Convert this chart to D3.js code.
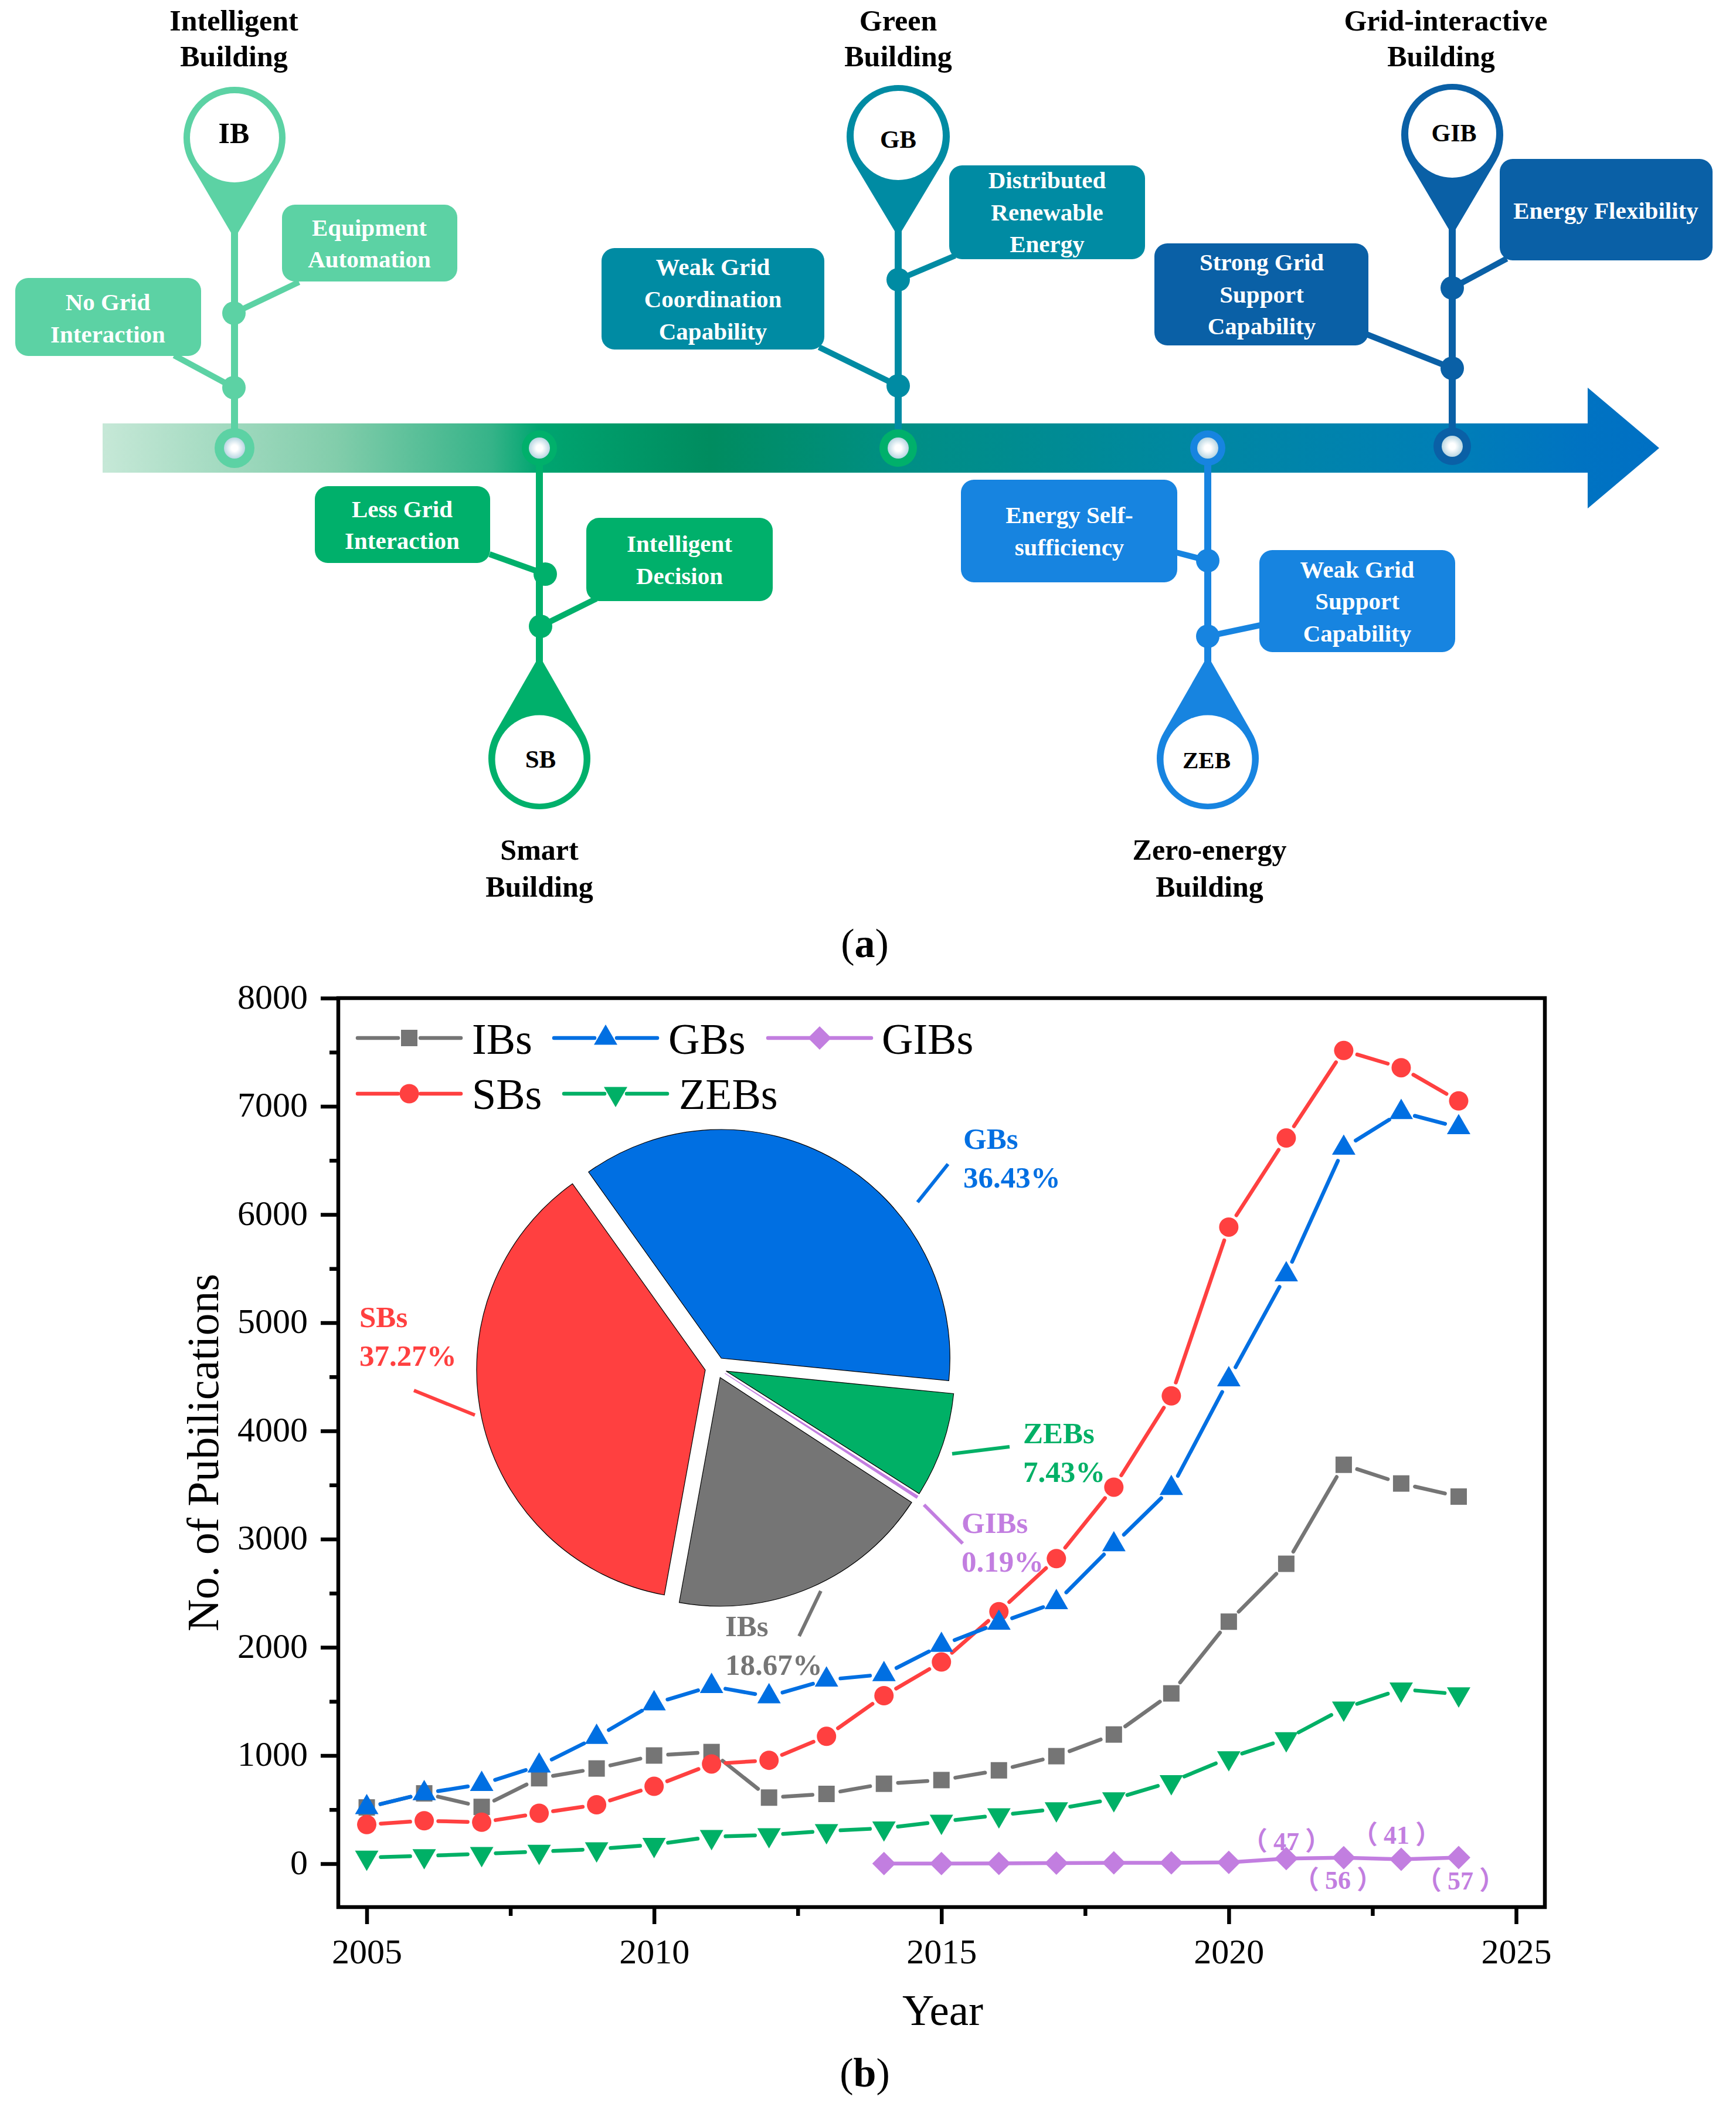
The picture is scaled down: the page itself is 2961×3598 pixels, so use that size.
<!DOCTYPE html>
<html>
<head>
<meta charset="utf-8">
<script src="https://cdn.jsdelivr.net/npm/d3@7"></script>
<style>
  body { margin: 0; background: #fff; }
  text { font-family: "Liberation Serif", "Noto Sans CJK SC", serif; }
</style>
</head>
<body>
<div id="chart"></div>
<script>
// publications per year
const years = [2005, 2006, 2007, 2008, 2009, 2010, 2011, 2012, 2013, 2014, 2015, 2016, 2017, 2018, 2019, 2020, 2021, 2022, 2023, 2024];
const ibValues = [520, 650, 525, 790, 880, 1000, 1032, 611, 645, 739, 773, 863, 994, 1194, 1574, 2237, 2772, 3687, 3514, 3393];
const sbValues = [362, 397, 383, 466, 545, 715, 922, 956, 1177, 1553, 1864, 2330, 2820, 3480, 4324, 5884, 6707, 7516, 7357, 7050];
const gbValues = [520, 650, 735, 905, 1170, 1480, 1640, 1545, 1700, 1750, 2020, 2225, 2415, 2950, 3470, 4475, 5445, 6615, 6945, 6805];
const zebValues = [58, 72, 92, 112, 135, 176, 249, 266, 303, 328, 390, 449, 505, 598, 756, 977, 1153, 1436, 1612, 1567];
const gibYears = [2014, 2015, 2016, 2017, 2018, 2019, 2020, 2021, 2022, 2023, 2024];
const gibValues = [2, 2, 3, 6, 8, 8, 12, 47, 56, 41, 57];

// pie shares, clockwise from the GBs slice
const pieNames = ["GBs", "ZEBs", "GIBs", "IBs", "SBs"];
const pieShares = [36.43, 7.43, 0.19, 18.67, 37.27];

const yTicks = [0, 1000, 2000, 3000, 4000, 5000, 6000, 7000, 8000];
const yMinorTicks = [500, 1500, 2500, 3500, 4500, 5500, 6500, 7500];
const xTicks = [2005, 2010, 2015, 2020, 2025];
const xMinorTicks = [2007.5, 2012.5, 2017.5, 2022.5];

const COLORS = {
  IBs: "#757575", SBs: "#ff4040", GBs: "#006fe2", ZEBs: "#00b066", GIBs: "#c27ee0",
};

const PLOT = { left: 577, right: 2635, top: 1702, bottom: 3252 };
const GAP = 24;

// timeline stages (a)
const stages = [
  { key: "IB", title: ["Intelligent", "Building"], color: "#5cd2a4", ring: "#5cd2a4",
    x: 400, dir: 1, cy: 235, r: 87, inner: 76, innerCy: 235, tipY: 407, node: 34, nodeY: 764,
    titleX: 399, titleY: [52, 113], labelX: 399, labelY: 244, labelSize: 50 },
  { key: "SB", title: ["Smart", "Building"], color: "#00b06b", ring: "#00b06b",
    x: 920, dir: -1, cy: 1293, r: 87, inner: 75.5, innerCy: 1295, tipY: 1118, node: 30, nodeY: 764,
    titleX: 920, titleY: [1466, 1529], labelX: 922, labelY: 1309, labelSize: 43 },
  { key: "GB", title: ["Green", "Building"], color: "#008ba3", ring: "#00b06b",
    x: 1532, dir: 1, cy: 233, r: 88, inner: 76, innerCy: 231, tipY: 404, node: 32, nodeY: 764,
    titleX: 1532, titleY: [52, 113], labelX: 1532, labelY: 252, labelSize: 43 },
  { key: "ZEB", title: ["Zero-energy", "Building"], color: "#1784e0", ring: "#1784e0",
    x: 2060, dir: -1, cy: 1293, r: 87, inner: 75.5, innerCy: 1295, tipY: 1118, node: 30, nodeY: 764,
    titleX: 2063, titleY: [1466, 1529], labelX: 2058, labelY: 1310, labelSize: 41 },
  { key: "GIB", title: ["Grid-interactive", "Building"], color: "#0a60a6", ring: "#0a60a6",
    x: 2477, dir: 1, cy: 230, r: 87, inner: 75, innerCy: 228, tipY: 401, node: 32, nodeY: 761,
    titleX: 2466, titleY: [52, 113], labelX: 2480, labelY: 241, labelSize: 42 },
];

// feature boxes hanging off the stems
const boxes = [
  { stage: "IB", lines: ["Equipment", "Automation"], x: 481, y: 349, w: 299, h: 131, tx: 630, ty: [402, 456], nx: 399, ny: 534, cx: 510, cy: 481 },
  { stage: "IB", lines: ["No Grid", "Interaction"], x: 26, y: 474, w: 317, h: 133, tx: 184, ty: [529, 584], nx: 399, ny: 661, cx: 297, cy: 606 },
  { stage: "SB", lines: ["Less Grid", "Interaction"], x: 537, y: 829, w: 299, h: 131, tx: 686, ty: [882, 936], nx: 930, ny: 979, cx: 835, cy: 945 },
  { stage: "SB", lines: ["Intelligent", "Decision"], x: 1000, y: 883, w: 318, h: 142, tx: 1159, ty: [941, 996], nx: 922, ny: 1068, cx: 1017, cy: 1021 },
  { stage: "GB", lines: ["Distributed", "Renewable", "Energy"], x: 1619, y: 282, w: 334, h: 160, tx: 1786, ty: [321, 376, 430], nx: 1532, ny: 477, cx: 1629, cy: 436 },
  { stage: "GB", lines: ["Weak Grid", "Coordination", "Capability"], x: 1026, y: 423, w: 380, h: 173, tx: 1216, ty: [469, 524, 579], nx: 1532, ny: 658, cx: 1397, cy: 592 },
  { stage: "ZEB", lines: ["Energy Self-", "sufficiency"], x: 1639, y: 818, w: 369, h: 175, tx: 1824, ty: [892, 947], nx: 2060, ny: 956, cx: 2006, cy: 942 },
  { stage: "ZEB", lines: ["Weak Grid", "Support", "Capability"], x: 2148, y: 938, w: 334, h: 174, tx: 2315, ty: [985, 1039, 1094], nx: 2060, ny: 1085, cx: 2150, cy: 1066 },
  { stage: "GIB", lines: ["Strong Grid", "Support", "Capability"], x: 1969, y: 415, w: 365, h: 174, tx: 2152, ty: [461, 516, 570], nx: 2477, ny: 628, cx: 2331, cy: 570 },
  { stage: "GIB", lines: ["Energy Flexibility"], x: 2558, y: 271, w: 363, h: 173, tx: 2739, ty: [373], nx: 2477, ny: 491, cx: 2570, cy: 441 },
];

const svg = d3.select("#chart").append("svg")
  .attr("width", 2961)
  .attr("height", 3598)
  .attr("viewBox", "0 0 2961 3598");

const defs = svg.append("defs");

function pinPath(d) {
  // teardrop: circle with two tangents meeting at the tip
  const dist = Math.abs(d.tipY - d.cy);
  const phi = Math.acos(d.r / dist);
  const axis = d.dir * Math.PI / 2;
  const p = d3.path();
  p.moveTo(d.x, d.tipY);
  p.arc(d.x, d.cy, d.r, axis + phi, axis - phi + 2 * Math.PI);
  p.closePath();
  return p.toString();
}

function drawTimeline() {
  const g = svg.append("g");

  const grad = defs.append("linearGradient")
    .attr("id", "barGradient")
    .attr("gradientUnits", "userSpaceOnUse")
    .attr("x1", 175).attr("x2", 2830).attr("y1", 0).attr("y2", 0);
  [[0, "#c6e8d7"], [0.06, "#aaddc5"], [0.15, "#82cdab"], [0.25, "#35b388"], [0.28, "#00a570"], [0.39, "#008c5f"],
    [0.51, "#008f84"], [0.69, "#0088a0"], [0.86, "#007fb6"], [0.95, "#0073c2"], [1, "#0070c4"]]
    .forEach(([o, c]) => grad.append("stop").attr("offset", o).attr("stop-color", c));

  const dot = defs.append("radialGradient").attr("id", "dotGradient");
  dot.append("stop").attr("offset", 0.3).attr("stop-color", "#ffffff");
  dot.append("stop").attr("offset", 1).attr("stop-color", "#b8d6e2");

  g.append("rect")
    .attr("x", 175).attr("y", 722)
    .attr("width", 2533).attr("height", 84)
    .attr("fill", "url(#barGradient)");
  g.append("path")
    .attr("d", "M2708,661L2830,764L2708,867Z")
    .attr("fill", "url(#barGradient)");

  const stage = g.selectAll("g.stage").data(stages).enter().append("g").attr("class", "stage");

  // stem from bar to pin, run a little way into the pin so the narrow tip joins it
  stage.append("line")
    .attr("x1", (d) => d.x).attr("x2", (d) => d.x)
    .attr("y1", (d) => d.nodeY).attr("y2", (d) => d.tipY - d.dir * 30)
    .attr("stroke", (d) => d.color)
    .attr("stroke-width", 12);

  stage.append("path").attr("d", pinPath).attr("fill", (d) => d.color);
  stage.append("circle")
    .attr("cx", (d) => d.x).attr("cy", (d) => d.innerCy).attr("r", (d) => d.inner)
    .attr("fill", "#fff");
  stage.append("circle")
    .attr("cx", (d) => d.x).attr("cy", (d) => d.nodeY).attr("r", (d) => d.node)
    .attr("fill", (d) => d.ring);
  stage.append("circle")
    .attr("cx", (d) => d.x).attr("cy", (d) => d.nodeY).attr("r", 18)
    .attr("fill", "url(#dotGradient)");

  stage.append("text")
    .attr("x", (d) => d.labelX).attr("y", (d) => d.labelY)
    .attr("text-anchor", "middle")
    .attr("font-weight", "bold")
    .attr("font-size", (d) => d.labelSize)
    .text((d) => d.key);

  stage.each(function (d) {
    d3.select(this).selectAll("text.title").data(d.title).enter().append("text")
      .attr("class", "title")
      .attr("x", (t, i) => (d.key === "GIB" && i === 1 ? 2458 : d.titleX))
      .attr("y", (t, i) => d.titleY[i])
      .attr("text-anchor", "middle")
      .attr("font-weight", "bold")
      .attr("font-size", 50)
      .text((t) => t);
  });

  const colorOf = (d) => stages.find((s) => s.key === d.stage).color;
  const box = g.selectAll("g.box").data(boxes).enter().append("g").attr("class", "box");

  box.append("line")
    .attr("x1", (d) => d.nx).attr("y1", (d) => d.ny)
    .attr("x2", (d) => d.cx).attr("y2", (d) => d.cy)
    .attr("stroke", colorOf)
    .attr("stroke-width", 10);
  box.append("circle")
    .attr("cx", (d) => d.nx).attr("cy", (d) => d.ny).attr("r", 20)
    .attr("fill", colorOf);
  box.append("rect")
    .attr("x", (d) => d.x).attr("y", (d) => d.y)
    .attr("width", (d) => d.w).attr("height", (d) => d.h)
    .attr("rx", 22)
    .attr("fill", colorOf);

  box.each(function (d) {
    d3.select(this).selectAll("text").data(d.lines).enter().append("text")
      .attr("x", d.tx)
      .attr("y", (t, i) => d.ty[i])
      .attr("text-anchor", "middle")
      .attr("font-weight", "bold")
      .attr("font-size", 41)
      .attr("fill", "#fff")
      .text((t) => t);
  });
}

const x = d3.scaleLinear().domain([2004.505, 2025.5]).range([PLOT.left, PLOT.right]);
const y = d3.scaleLinear().domain([-401, 8000]).range([PLOT.bottom, PLOT.top]);

const seriesList = [
  { name: "IBs", xs: years, ys: ibValues, shape: d3.symbolSquare, size: 784, rotate: 0, gap: true },
  { name: "SBs", xs: years, ys: sbValues, shape: d3.symbolCircle, size: 855, rotate: 0, gap: true },
  { name: "ZEBs", xs: years, ys: zebValues, shape: d3.symbolTriangle, size: 693, rotate: 180, gap: true },
  { name: "GBs", xs: years, ys: gbValues, shape: d3.symbolTriangle, size: 693, rotate: 0, gap: true },
  { name: "GIBs", xs: gibYears, ys: gibValues, shape: d3.symbolSquare, size: 800, rotate: 45, gap: false },
];

function drawAxes() {
  const g = svg.append("g");

  g.append("rect")
    .attr("x", PLOT.left).attr("y", PLOT.top)
    .attr("width", PLOT.right - PLOT.left).attr("height", PLOT.bottom - PLOT.top)
    .attr("fill", "none")
    .attr("stroke", "#000")
    .attr("stroke-width", 6.5);

  const yAxis = g.append("g")
    .attr("transform", `translate(${PLOT.left},0)`)
    .call(d3.axisLeft(y).tickValues(yTicks).tickSize(30).tickPadding(22).tickSizeOuter(0).tickFormat(d3.format("d")));
  const xAxis = g.append("g")
    .attr("transform", `translate(0,${PLOT.bottom})`)
    .call(d3.axisBottom(x).tickValues(xTicks).tickSize(29).tickPadding(24).tickSizeOuter(0).tickFormat(d3.format("d")));

  // minor ticks
  g.append("g")
    .attr("transform", `translate(${PLOT.left},0)`)
    .call(d3.axisLeft(y).tickValues(yMinorTicks).tickSize(15).tickFormat(""))
    .call((s) => s.select(".domain").remove())
    .selectAll("line").attr("stroke-width", 6.5);
  g.append("g")
    .attr("transform", `translate(0,${PLOT.bottom})`)
    .call(d3.axisBottom(x).tickValues(xMinorTicks).tickSize(15).tickFormat(""))
    .call((s) => s.select(".domain").remove())
    .selectAll("line").attr("stroke-width", 6.5);

  [yAxis, xAxis].forEach((axis) => {
    axis.select(".domain").remove();
    axis.selectAll("line").attr("stroke-width", 6.5);
    axis.selectAll("text")
      .attr("font-size", 60)
      .style("font-family", "'Liberation Serif', serif")
      .attr("fill", "#000");
  });
  yAxis.selectAll("text").attr("dy", "0.29em");

  g.append("text")
    .attr("transform", "translate(372,2477) rotate(-90)")
    .attr("text-anchor", "middle")
    .attr("font-size", 76)
    .text("No. of Pubilications");

  g.append("text")
    .attr("x", 1608).attr("y", 3453)
    .attr("text-anchor", "middle")
    .attr("font-size", 75)
    .text("Year");
}

function drawPie() {
  const center = { x: 1221, y: 2332 };
  const explode = 18.5;
  const radius = 390;
  const startAngle = -35.5 * Math.PI / 180;

  const pie = d3.pie().sort(null)
    .startAngle(startAngle)
    .endAngle(startAngle + 2 * Math.PI);
  const arc = d3.arc().innerRadius(0).outerRadius(radius);

  const g = svg.append("g").attr("transform", `translate(${center.x},${center.y})`);
  g.selectAll("path")
    .data(pie(pieShares))
    .enter()
    .append("path")
    .attr("d", arc)
    .attr("transform", (d) => {
      const mid = (d.startAngle + d.endAngle) / 2;
      return `translate(${explode * Math.sin(mid)},${-explode * Math.cos(mid)})`;
    })
    .attr("fill", (d, i) => COLORS[pieNames[i]])
    .attr("stroke", (d, i) => (pieNames[i] === "GIBs" ? COLORS.GIBs : "#000"))
    .attr("stroke-width", 1.2);

  const leaders = [
    { name: "GBs", line: [1565, 2050, 1617, 1985], at: [1643, 1959, 2025] },
    { name: "SBs", line: [706, 2371, 810, 2413], at: [613, 2263, 2329] },
    { name: "ZEBs", line: [1624, 2479, 1722, 2467], at: [1745, 2461, 2527] },
    { name: "GIBs", line: [1576, 2566, 1642, 2632], at: [1640, 2614, 2680] },
    { name: "IBs", line: [1400, 2713, 1363, 2790], at: [1237, 2790, 2856] },
  ];
  leaders.forEach((d) => {
    const share = pieShares[pieNames.indexOf(d.name)];
    svg.append("line")
      .attr("x1", d.line[0]).attr("y1", d.line[1])
      .attr("x2", d.line[2]).attr("y2", d.line[3])
      .attr("stroke", COLORS[d.name])
      .attr("stroke-width", 6);
    [d.name, `${d3.format(".2f")(share)}%`].forEach((t, i) => {
      svg.append("text")
        .attr("x", d.at[0]).attr("y", d.at[i + 1])
        .attr("font-size", 51)
        .attr("font-weight", "bold")
        .attr("fill", COLORS[d.name])
        .text(t);
    });
  });
}

function symbolPath(s) {
  return d3.symbol().type(s.shape).size(s.size)();
}

function drawSeries() {
  const line = d3.line();
  const groups = svg.selectAll("g.series").data(seriesList).enter().append("g").attr("class", "series");

  groups.each(function (s) {
    const g = d3.select(this);
    const pts = s.xs.map((year, i) => [x(year), y(s.ys[i])]);
    const gap = s.gap ? GAP : 0;

    d3.pairs(pts).forEach(([a, b]) => {
      const len = Math.hypot(b[0] - a[0], b[1] - a[1]);
      if (len <= 2 * gap) return;
      const ux = (b[0] - a[0]) / len;
      const uy = (b[1] - a[1]) / len;
      g.append("path")
        .attr("d", line([[a[0] + ux * gap, a[1] + uy * gap], [b[0] - ux * gap, b[1] - uy * gap]]))
        .attr("fill", "none")
        .attr("stroke", COLORS[s.name])
        .attr("stroke-width", 6.5)
        .attr("stroke-linecap", "round");
    });

    g.selectAll("path.marker")
      .data(pts)
      .enter()
      .append("path")
      .attr("class", "marker")
      .attr("d", symbolPath(s))
      .attr("transform", (p) => `translate(${p[0]},${p[1]}) rotate(${s.rotate})`)
      .attr("fill", COLORS[s.name]);
  });

  // GIBs counts from 2021 on
  const countLabels = [
    { year: 2021, textX: 2194, textY: 3155 },
    { year: 2022, textX: 2282, textY: 3221 },
    { year: 2023, textX: 2382, textY: 3144 },
    { year: 2024, textX: 2491, textY: 3222 },
  ];
  countLabels.forEach((d) => {
    const t = svg.append("text")
      .attr("x", d.textX).attr("y", d.textY)
      .attr("text-anchor", "middle")
      .attr("font-size", 44)
      .attr("font-weight", "bold")
      .attr("fill", COLORS.GIBs);
    t.append("tspan").text("（");
    t.append("tspan").attr("dx", 10).text(gibValues[gibYears.indexOf(d.year)]);
    t.append("tspan").attr("dx", 10).text("）");
  });
}

function drawLegend() {
  const items = [
    { name: "IBs", x0: 610, textX: 805, lineY: 1770, textY: 1797 },
    { name: "GBs", x0: 945, textX: 1140, lineY: 1770, textY: 1797 },
    { name: "GIBs", x0: 1310, textX: 1504, lineY: 1770, textY: 1797 },
    { name: "SBs", x0: 610, textX: 805, lineY: 1865, textY: 1891 },
    { name: "ZEBs", x0: 962, textX: 1158, lineY: 1865, textY: 1891 },
  ];
  const g = svg.append("g");
  items.forEach((d) => {
    const s = seriesList.find((c) => c.name === d.name);
    const mid = d.x0 + 88;
    const inner = s.gap ? 19 : 0;
    [[d.x0, mid - inner], [mid + inner, d.x0 + 176]].forEach(([a, b]) => {
      g.append("line")
        .attr("x1", a).attr("x2", b)
        .attr("y1", d.lineY).attr("y2", d.lineY)
        .attr("stroke", COLORS[d.name])
        .attr("stroke-width", 6.5)
        .attr("stroke-linecap", "round");
    });
    g.append("path")
      .attr("d", symbolPath(s))
      .attr("transform", `translate(${mid},${d.lineY}) rotate(${s.rotate})`)
      .attr("fill", COLORS[d.name]);
    g.append("text")
      .attr("x", d.textX).attr("y", d.textY)
      .attr("font-size", 74)
      .text(d.name);
  });
}

function drawPanelLabel(letter, cx, baseline) {
  const t = svg.append("text")
    .attr("x", cx).attr("y", baseline)
    .attr("text-anchor", "middle")
    .attr("font-size", 70);
  t.append("tspan").text("(");
  t.append("tspan").attr("font-weight", "bold").text(letter);
  t.append("tspan").text(")");
}

drawTimeline();
drawPanelLabel("a", 1475, 1632);
drawAxes();
drawPie();
drawSeries();
drawLegend();
drawPanelLabel("b", 1475, 3558);
</script>
</body>
</html>
